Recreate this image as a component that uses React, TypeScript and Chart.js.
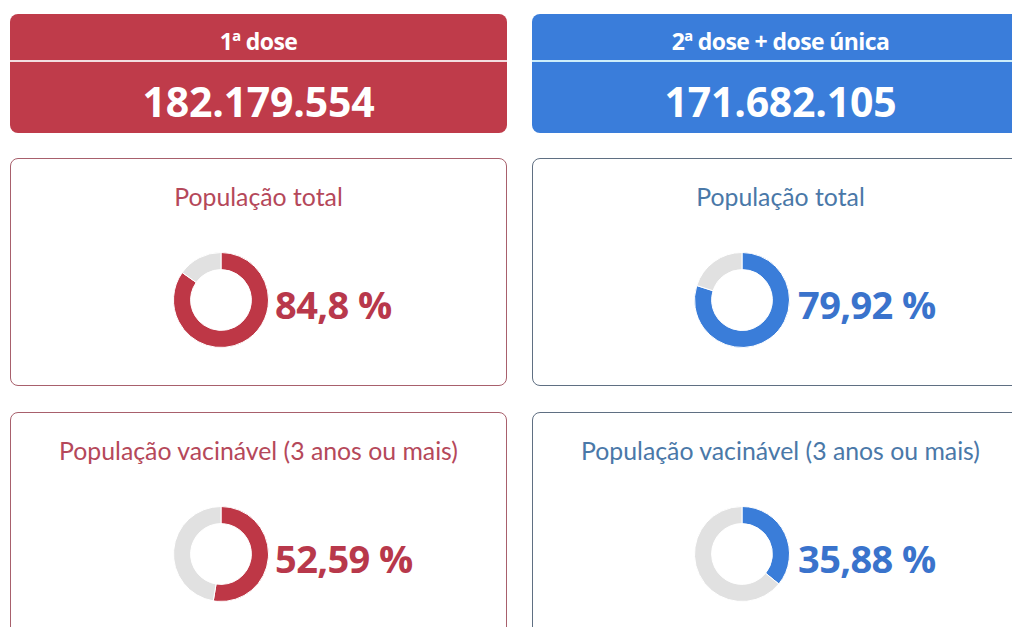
import React, { useEffect, useRef } from "react";
import { Chart, registerables } from "chart.js";

Chart.register(...registerables);

// ---- Data ----
const headerTitles = ["1ª dose", "2ª dose + dose única"];
const headerTotals = ["182.179.554", "171.682.105"];
const rowLabels = ["População total", "População vacinável (3 anos ou mais)"];
const firstDosePct = [84.8, 52.59];
const secondDosePct = [79.92, 35.88];

const RED = "#be3746";
const BLUE = "#3a7dd9";
const GREY = "#e1e1e1";

const fmt = (v: number) => String(v).replace(".", ",") + " %";

function Donut({ value, color }: { value: number; color: string }) {
  const ref = useRef<HTMLCanvasElement | null>(null);
  useEffect(() => {
    if (!ref.current) return;
    const chart = new Chart(ref.current, {
      type: "doughnut",
      data: {
        labels: ["Vacinados", "Restante"],
        datasets: [
          {
            data: [value, 100 - value],
            backgroundColor: [color, GREY],
            borderColor: "#ffffff",
            borderWidth: 1,
          },
        ],
      },
      options: {
        responsive: false,
        maintainAspectRatio: false,
        animation: false,
        cutout: "64%",
        plugins: { legend: { display: false }, tooltip: { enabled: false } },
        layout: { padding: 0 },
      },
    });
    return () => chart.destroy();
  }, [value, color]);
  return <canvas ref={ref} width={96} height={96} style={{ width: 96, height: 96, display: "block" }} />;
}

function Header({ left, title, total, bg, line }: { left: number; title: string; total: string; bg: string; line: string }) {
  return (
    <div
      style={{
        position: "absolute",
        left,
        top: 14,
        width: 497,
        height: 119,
        background: bg,
        borderRadius: 8,
        color: "#fff",
        fontFamily: "'Open Sans', sans-serif",
        fontWeight: 700,
        overflow: "hidden",
      }}
    >
      <div style={{ position: "absolute", left: 0, right: 0, top: 12, height: 30, lineHeight: "30px", textAlign: "center", fontSize: 23, letterSpacing: -0.6 }}>
        {title}
      </div>
      <div style={{ position: "absolute", left: 0, right: 0, top: 46, height: 2, background: line }} />
      <div style={{ position: "absolute", left: 0, right: 0, top: 62, height: 50, lineHeight: "50px", textAlign: "center", fontSize: 41, letterSpacing: -0.2 }}>
        {total}
      </div>
    </div>
  );
}

function Card({
  left,
  top,
  height,
  label,
  value,
  color,
  titleColor,
  textColor,
  border,
  donutLeft,
  textLeft,
}: {
  left: number;
  top: number;
  height: number;
  label: string;
  value: number;
  color: string;
  titleColor: string;
  textColor: string;
  border: string;
  donutLeft: number;
  textLeft: number;
}) {
  return (
    <div
      style={{
        position: "absolute",
        left,
        top,
        width: 497,
        height,
        boxSizing: "border-box",
        border: `1px solid ${border}`,
        borderRadius: 8,
        background: "#fff",
      }}
    >
      <div
        style={{
          position: "absolute",
          left: 0,
          right: 0,
          top: 22,
          height: 32,
          lineHeight: "32px",
          textAlign: "center",
          fontFamily: "Lato, sans-serif",
          fontSize: 24.8,
          color: titleColor,
        }}
      >
        {label}
      </div>
      <div style={{ position: "absolute", left: donutLeft, top: 93 }}>
        <Donut value={value} color={color} />
      </div>
      <div
        style={{
          position: "absolute",
          left: textLeft,
          top: 120,
          height: 50,
          lineHeight: "50px",
          fontFamily: "'Open Sans', sans-serif",
          fontWeight: 700,
          fontSize: 38,
          letterSpacing: -0.6,
          color: textColor,
          whiteSpace: "nowrap",
        }}
      >
        {fmt(value)}
      </div>
    </div>
  );
}

export default function App() {
  return (
    <div style={{ position: "fixed", left: 0, top: 0, width: 1012, height: 627, overflow: "hidden", background: "#fff" }}>
      <Header left={10} title={headerTitles[0]} total={headerTotals[0]} bg="#bf3b4a" line="#f3dde0" />
      <Header left={532} title={headerTitles[1]} total={headerTotals[1]} bg="#3a7dda" line="#cdeefa" />

      <Card left={10} top={158} height={228} label={rowLabels[0]} value={firstDosePct[0]} color={RED}
        titleColor="#b5485a" textColor="#b8384b" border="#a8606c" donutLeft={162} textLeft={264} />
      <Card left={532} top={158} height={228} label={rowLabels[0]} value={secondDosePct[0]} color={BLUE}
        titleColor="#4a78a8" textColor="#3a73cc" border="#5f6f82" donutLeft={161} textLeft={265} />

      <Card left={10} top={412} height={260} label={rowLabels[1]} value={firstDosePct[1]} color={RED}
        titleColor="#b5485a" textColor="#b8384b" border="#a8606c" donutLeft={162} textLeft={264} />
      <Card left={532} top={412} height={260} label={rowLabels[1]} value={secondDosePct[1]} color={BLUE}
        titleColor="#4a78a8" textColor="#3a73cc" border="#5f6f82" donutLeft={161} textLeft={265} />
    </div>
  );
}
